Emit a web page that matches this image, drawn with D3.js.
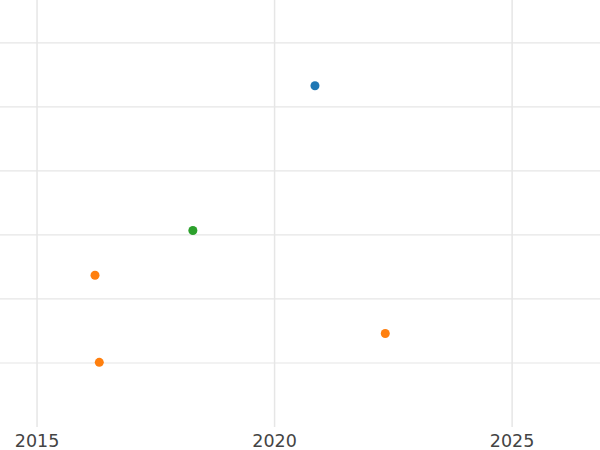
<!DOCTYPE html>
<html><head><meta charset="utf-8">
<script src="https://cdn.jsdelivr.net/npm/d3@7"></script>
<style>body{margin:0;background:#fff}</style>
</head><body>
<svg id="chart" width="600" height="450"></svg>
<script>
// data
const years = [2020.85, 2018.28, 2016.22, 2022.33, 2016.31];
const values = [5.33, 3.07, 2.37, 1.46, 1.01];
const groups = ["a", "b", "c", "c", "c"];
const xTicks = [2015, 2020, 2025];
const yGrid = [1, 2, 3, 4, 5, 6];

const svg = d3.select("#chart");
const x = d3.scaleLinear().domain([2014.22, 2026.85]).range([0, 600]);
const y = d3.scaleLinear().domain([0, 6.67]).range([427, 0]);
const color = d3.scaleOrdinal().domain(["a", "b", "c"]).range(["#1f77b4", "#2ca02c", "#ff7f0e"]);

svg.selectAll(".hg").data(yGrid).enter().append("line")
  .attr("x1", 0).attr("x2", 600)
  .attr("y1", d => y(d)).attr("y2", d => y(d))
  .attr("stroke", "#e6e6e6").attr("stroke-width", 1.2);

svg.selectAll(".vg").data(xTicks).enter().append("line")
  .attr("x1", d => x(d)).attr("x2", d => x(d))
  .attr("y1", 0).attr("y2", 427)
  .attr("stroke", "#e6e6e6").attr("stroke-width", 1.5);

svg.selectAll(".tl").data(xTicks).enter().append("text")
  .attr("x", d => x(d)).attr("y", 447)
  .attr("text-anchor", "middle")
  .attr("font-family", "DejaVu Sans").attr("font-size", 17.5).attr("fill", "#444")
  .text(d => d);

svg.selectAll(".pt").data(years).enter().append("circle")
  .attr("cx", d => x(d)).attr("cy", (d, i) => y(values[i]))
  .attr("r", 4.5).attr("fill", (d, i) => color(groups[i]));
</script>
</body></html>
